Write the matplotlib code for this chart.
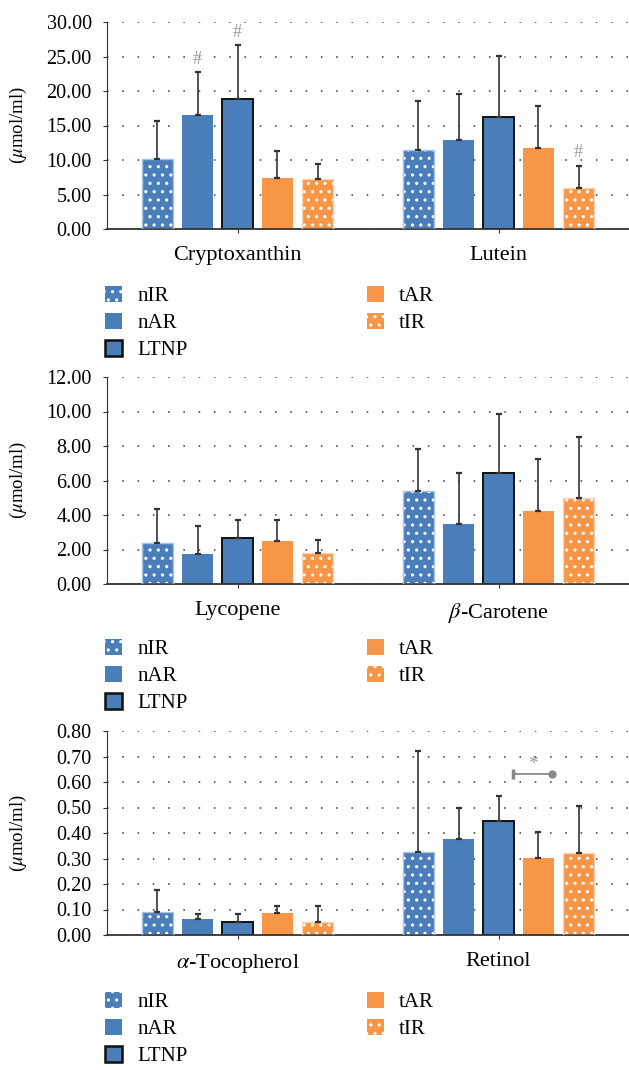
import numpy as np
import matplotlib
matplotlib.use('Agg')
import matplotlib.pyplot as plt
from matplotlib.patches import Patch

plt.rcParams['font.family'] = ['Liberation Serif', 'DejaVu Serif']
plt.rcParams['mathtext.fontset'] = 'stix'
plt.rcParams['hatch.linewidth'] = 1.1

# data (mean and upper end of error bar)
groups = ['nIR', 'nAR', 'LTNP', 'tAR', 'tIR']

cats_1 = ['Cryptoxanthin', 'Lutein']
mean_1 = {'nIR': [10.1, 11.5], 'nAR': [16.55, 12.9], 'LTNP': [18.8, 16.2],
          'tAR': [7.4, 11.8], 'tIR': [7.3, 6.0]}
top_1 = {'nIR': [15.7, 18.6], 'nAR': [22.8, 19.6], 'LTNP': [26.7, 25.1],
         'tAR': [11.3, 17.8], 'tIR': [9.4, 9.2]}

cats_2 = ['Lycopene', r'$\beta$-Carotene']
mean_2 = {'nIR': [2.37, 5.42], 'nAR': [1.73, 3.46], 'LTNP': [2.66, 6.41],
          'tAR': [2.52, 4.21], 'tIR': [1.79, 4.99]}
top_2 = {'nIR': [4.35, 7.81], 'nAR': [3.35, 6.45], 'LTNP': [3.72, 9.88],
         'tAR': [3.72, 7.24], 'tIR': [2.55, 8.52]}

cats_3 = [r'$\alpha$-Tocopherol', 'Retinol']
mean_3 = {'nIR': [0.092, 0.327], 'nAR': [0.062, 0.376], 'LTNP': [0.050, 0.449],
          'tAR': [0.085, 0.302], 'tIR': [0.052, 0.323]}
top_3 = {'nIR': [0.178, 0.72], 'nAR': [0.081, 0.497], 'LTNP': [0.081, 0.544],
         'tAR': [0.115, 0.403], 'tIR': [0.113, 0.506]}

# '#' marks: (category index, group)
hash_1 = [(0, 'nAR'), (0, 'LTNP'), (1, 'tIR')]

blue = '#4a7ebb'
orange = '#f79646'
style = {
    'nIR': dict(color=blue, hatch='..', edge='#a9c2e4', lw=1.0),
    'nAR': dict(color=blue, hatch=None, edge=blue, lw=0),
    'LTNP': dict(color=blue, hatch=None, edge='#111111', lw=1.4),
    'tAR': dict(color=orange, hatch=None, edge=orange, lw=0),
    'tIR': dict(color=orange, hatch='..', edge='#fbd3b2', lw=1.0),
}
offsets = [-0.307, -0.153, 0.0, 0.153, 0.307]
bw = 0.12

fig = plt.figure(figsize=(6.29, 10.70), dpi=100)
H = 1070.0
W = 629.0


def panel(top_px, bot_px, cats, means, tops, ymax, step, leg_top):
    ax = fig.add_axes([107 / W, 1 - bot_px / H, 522 / W, (bot_px - top_px) / H])
    x = np.arange(len(cats))
    for g, off in zip(groups, offsets):
        s = style[g]
        m = np.array(means[g])
        t = np.array(tops[g])
        if s['hatch']:
            ax.bar(x + off, m, bw, color=s['color'], edgecolor='white',
                   hatch=s['hatch'], linewidth=0, zorder=2)
            ax.bar(x + off, m, bw, fill=False, edgecolor=s['edge'],
                   linewidth=s['lw'], zorder=3)
        else:
            ax.bar(x + off, m, bw, color=s['color'], edgecolor=s['edge'],
                   linewidth=s['lw'], zorder=2)
        ax.errorbar(x + off, m, yerr=[np.zeros_like(m), t - m], fmt='none',
                    ecolor='#333333', elinewidth=1.2, capsize=2.3, capthick=1.6,
                    zorder=4)
    ax.set_xlim(-0.5, 1.5)
    ax.set_ylim(0, ymax)
    ticks = np.arange(0, ymax + step / 2, step)
    ax.set_yticks(ticks)
    ax.set_yticklabels(['%.2f' % v for v in ticks])
    ax.set_xticks(x)
    ax.set_xticklabels(cats, fontsize=16)
    for v in ticks:
        ax.axhline(v, color='#333333', lw=1.1, ls=(0, (1, 9)), zorder=1)
    ax.spines['top'].set_visible(False)
    ax.spines['right'].set_visible(False)
    ax.spines['left'].set_color('#333333')
    ax.spines['bottom'].set_color('#333333')
    ax.spines['bottom'].set_linewidth(1.3)
    ax.tick_params(axis='y', length=3, pad=8, labelsize=14.5, color='#333333')
    ax.tick_params(axis='x', length=3, pad=9, color='#333333')
    ax.set_ylabel(r'($\mu$mol/ml)', fontsize=13.5)
    ax.yaxis.set_label_coords(-0.150, 0.5)

    handles = []
    for g in groups:
        s = style[g]
        if s['hatch']:
            handles.append(Patch(facecolor=s['color'], edgecolor='white',
                                 hatch=s['hatch'], linewidth=0))
        else:
            handles.append(Patch(facecolor=s['color'], edgecolor=s['edge'],
                                 linewidth=s['lw'] * 1.3))
    ax.legend(handles, groups, loc='upper left', ncol=2, frameon=False,
              bbox_to_anchor=(105 / W, 1 - leg_top / H),
              bbox_transform=fig.transFigure, fontsize=15,
              handlelength=0.8, handleheight=0.8, handletextpad=0.75,
              columnspacing=8.6, labelspacing=0.32, borderpad=0,
              borderaxespad=0)
    return ax


ax1 = panel(22, 229, cats_1, mean_1, top_1, 30, 5, 286)
for ci, g in hash_1:
    xi = ci + offsets[groups.index(g)]
    ax1.text(xi, top_1[g][ci] + 0.6, '#', ha='center', va='bottom',
             color='#999999', fontsize=13)

ax2 = panel(377, 584, cats_2, mean_2, top_2, 12, 2, 639)

ax3 = panel(731, 935, cats_3, mean_3, top_3, 0.8, 0.1, 992)
# significance bracket in Retinol group
bx = [1 + 0.057, 1 + 0.206]
by = 0.631
ax3.plot(bx, [by, by], color='#888888', lw=1.3, zorder=5)
ax3.plot(bx[0], by, marker='|', ms=7, mew=2.5, color='#888888', zorder=5)
ax3.plot(bx[1], by, marker='o', ms=5, color='#888888', zorder=5)
ax3.text(sum(bx) / 2, by + 0.003, '*', ha='center', va='bottom',
         color='#999999', fontsize=14)

fig.savefig('out.png', dpi=100)
